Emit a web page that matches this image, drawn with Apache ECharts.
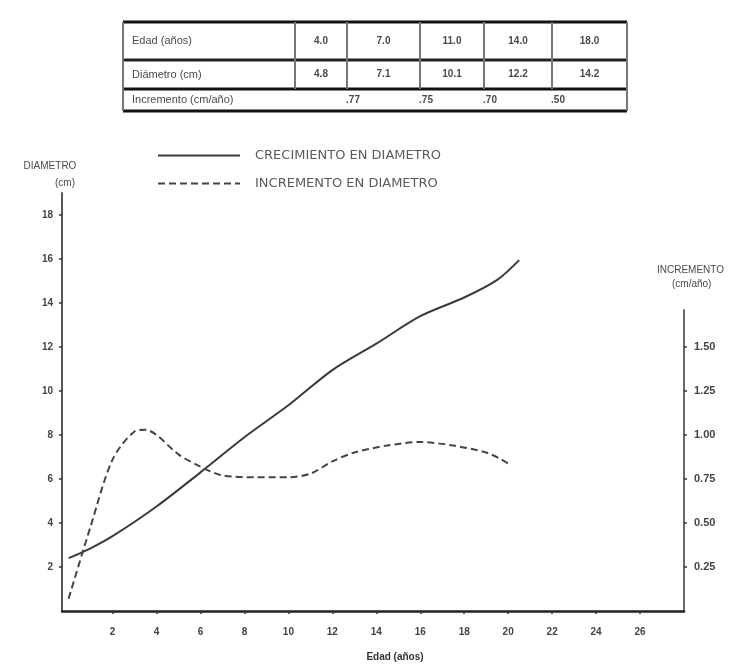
<!DOCTYPE html>
<html>
<head>
<meta charset="utf-8">
<script src="https://cdn.jsdelivr.net/npm/echarts@6/dist/echarts.min.js"></script>
<style>html,body{margin:0;padding:0;background:#fff}#c{width:731px;height:666px}</style>
</head>
<body>
<div id="c"></div>
<script>
// ---- data ----
const ageTicks = [2, 4, 6, 8, 10, 12, 14, 16, 18, 20, 22, 24, 26];
const diamTicks = [2, 4, 6, 8, 10, 12, 14, 16, 18];
const incTicks = [0.25, 0.5, 0.75, 1.0, 1.25, 1.5];

const growthAge  = [0, 1, 2, 4, 6, 8, 10, 12, 14, 16, 18, 19.5, 20.5];
const growthDiam = [2.4, 2.85, 3.4, 4.75, 6.3, 7.9, 9.35, 10.95, 12.15, 13.4, 14.25, 15.05, 15.95];

const incAge = [0, 1, 2, 3, 3.5, 4, 5, 6, 7, 8.5, 10, 11, 12, 13, 14.5, 16, 17.5, 19, 19.7, 20.1];
const incVal = [0.07, 0.48, 0.86, 1.02, 1.03, 1.0, 0.89, 0.82, 0.77, 0.76, 0.76, 0.78, 0.85, 0.90, 0.94, 0.96, 0.94, 0.90, 0.86, 0.83];

const seriesNames = ['CRECIMIENTO EN DIAMETRO', 'INCREMENTO EN DIAMETRO'];
const tableRowLabels = ['Edad (años)', 'Diámetro (cm)', 'Incremento (cm/año)'];
const tableAges = ['4.0', '7.0', '11.0', '14.0', '18.0'];
const tableDiams = ['4.8', '7.1', '10.1', '12.2', '14.2'];
const tableIncs = ['.77', '.75', '.70', '.50'];
const xTitle = 'Edad (años)';
const leftTitle = ['DIAMETRO', '(cm)'];
const rightTitle = ['INCREMENTO', '(cm/año)'];

// ---- layout / table ----
const colX = [123, 295, 347, 420, 484, 552, 627];
const rowY = [22, 60, 89, 111];
const ink = '#3a3a3a';
const txt = '#4a4a4a';
const graphic = [];
function hline(x1, x2, y, w, c) {
  graphic.push({type: 'line', shape: {x1: x1, y1: y, x2: x2, y2: y}, style: {stroke: c, lineWidth: w}});
}
function vline(x, y1, y2, w, c) {
  graphic.push({type: 'line', shape: {x1: x, y1: y1, x2: x, y2: y2}, style: {stroke: c, lineWidth: w}});
}
function label(x, y, s, align, size, weight) {
  graphic.push({type: 'text', x: x, y: y, style: {text: s, fill: txt, font: (weight || 'normal') + ' ' + (size || 9) + 'px "Liberation Sans"', textAlign: align || 'left', textVerticalAlign: 'middle'}});
}
hline(colX[0], colX[6], rowY[0], 3, '#111');
hline(colX[0], colX[6], rowY[1], 3, '#222');
hline(colX[0], colX[6], rowY[2], 3, '#111');
hline(colX[0], colX[6], rowY[3], 3, '#111');
vline(colX[0], rowY[0], rowY[3], 2, '#777');
vline(colX[6], rowY[0], rowY[3], 2, '#777');
for (let i = 1; i < 6; i++) vline(colX[i], rowY[0], rowY[2], 2, '#777');
const rowMid = [(rowY[0] + rowY[1]) / 2, (rowY[1] + rowY[2]) / 2, (rowY[2] + rowY[3]) / 2];
tableRowLabels.forEach((s, i) => label(colX[0] + 9, rowMid[i], s, 'left', 11));
tableAges.forEach((s, i) => label((colX[i + 1] + colX[i + 2]) / 2, rowMid[0], s, 'center', 10, 'bold'));
tableDiams.forEach((s, i) => label((colX[i + 1] + colX[i + 2]) / 2, rowMid[1], s, 'center', 10, 'bold'));
tableIncs.forEach((s, i) => label(colX[i + 2] + 6, rowMid[2], s, 'center', 10, 'bold'));

// axis titles
label(50, 166, leftTitle[0], 'center', 10);
label(65, 183, leftTitle[1], 'center', 10);
label(657, 270, rightTitle[0], 'left', 10);
label(672, 284, rightTitle[1], 'left', 10);
graphic.push({type: 'text', x: 395, y: 657, style: {text: xTitle, fill: '#333', font: 'bold 10px "Liberation Sans"', textAlign: 'center', textVerticalAlign: 'middle'}});

const axisLbl = {color: '#444', fontSize: 10, fontFamily: 'Liberation Sans', fontWeight: 'bold'};

const chart = echarts.init(document.getElementById('c'), null, {renderer: 'canvas'});
chart.setOption({
  animation: false,
  backgroundColor: '#fff',
  graphic: graphic,
  legend: {
    data: seriesNames,
    orient: 'vertical',
    left: 157,
    top: 149,
    padding: 0,
    itemGap: 15,
    itemWidth: 82,
    itemHeight: 12,
    itemStyle: {opacity: 0},
    textStyle: {color: '#5a5a5a', fontSize: 13, fontFamily: 'DejaVu Sans', padding: [0, 0, 0, 10]}
  },
  grid: [
    {left: 62, right: 47, top: 193, bottom: 55, containLabel: false, outerBoundsMode: 'none'},
    {left: 62, right: 47, top: 310, bottom: 55, containLabel: false, outerBoundsMode: 'none'}
  ],
  xAxis: [
    {
      type: 'value', gridIndex: 0, min: -0.3, max: 28,
      splitLine: {show: false},
      axisLine: {onZero: false, lineStyle: {color: '#222', width: 2.5}},
      axisTick: {show: true, length: 3, inside: false, customValues: ageTicks, lineStyle: {color: '#333', width: 1.5}},
      axisLabel: Object.assign({margin: 16, customValues: ageTicks}, axisLbl)
    },
    {
      type: 'value', gridIndex: 1, min: -0.3, max: 28, show: false
    }
  ],
  yAxis: [
    {
      type: 'value', gridIndex: 0, min: 0, max: 19, position: 'left',
      splitLine: {show: false},
      axisLine: {show: true, onZero: false, lineStyle: {color: '#555', width: 2}},
      axisTick: {show: true, length: 3, customValues: diamTicks, lineStyle: {color: '#333', width: 1.5}},
      axisLabel: Object.assign({margin: 9, customValues: diamTicks}, axisLbl)
    },
    {
      type: 'value', gridIndex: 1, min: 0, max: 1.71, position: 'right',
      splitLine: {show: false},
      axisLine: {show: true, onZero: false, lineStyle: {color: '#666', width: 2}},
      axisTick: {show: true, length: 3, customValues: incTicks, lineStyle: {color: '#333', width: 1.5}},
      axisLabel: Object.assign({}, axisLbl, {margin: 10, fontSize: 11, customValues: incTicks, formatter: v => v.toFixed(2)})
    }
  ],
  series: [
    {
      name: seriesNames[0], type: 'line', xAxisIndex: 0, yAxisIndex: 0,
      data: growthAge.map((a, i) => [a, growthDiam[i]]),
      smooth: 0.3, showSymbol: false, symbol: 'none',
      itemStyle: {color: ink},
      lineStyle: {color: ink, width: 2}
    },
    {
      name: seriesNames[1], type: 'line', xAxisIndex: 1, yAxisIndex: 1,
      data: incAge.map((a, i) => [a, incVal[i]]),
      smooth: 0.3, showSymbol: false, symbol: 'none',
      itemStyle: {color: '#444'},
      lineStyle: {color: '#444', width: 2, type: [7, 4]}
    }
  ]
});
</script>
</body>
</html>
